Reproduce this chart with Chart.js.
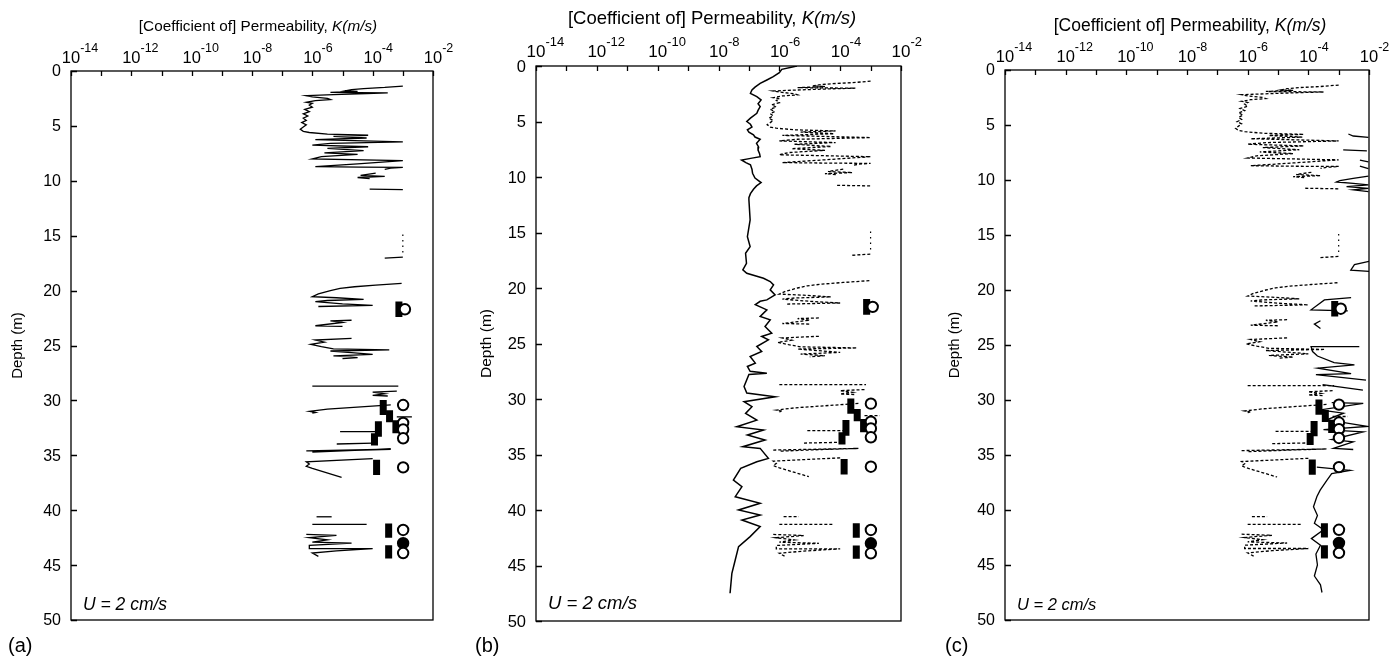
<!DOCTYPE html>
<html>
<head>
<meta charset="utf-8">
<script src="https://cdn.jsdelivr.net/npm/chart.js@4.4.1/dist/chart.umd.min.js"></script>
<style>
  html, body { margin: 0; padding: 0; background: #fff; width: 1400px; height: 656px; overflow: hidden; }
  canvas { position: absolute; left: 0; top: 0; }
</style>
</head>
<body>
<canvas id="panelA" width="1400" height="656"></canvas>
<canvas id="panelB" width="1400" height="656"></canvas>
<canvas id="panelC" width="1400" height="656"></canvas>
<script>
// Axis tick values
const kExponents = [-14, -12, -10, -8, -6, -4, -2];
const depthTicks = [0, 5, 10, 15, 20, 25, 30, 35, 40, 45, 50];

// Borehole permeability profile: [depth (m), log10 K (m/s)]; null breaks the trace
const boreholeProfile = [
  [1.37,-3.0],[1.5,-3.6],[1.6,-4.3],[1.7,-4.7],[1.8,-4.9],[1.85,-4.5],[1.95,-5.4],[2.0,-3.5],
  [2.05,-4.2],[2.15,-5.3],[2.25,-6.2],[2.35,-6.0],[2.5,-5.5],[2.6,-5.4],[2.7,-5.9],[2.85,-6.2],
  [2.95,-6.0],[3.1,-6.1],[3.3,-6.0],[3.5,-6.25],[3.7,-6.1],[3.9,-6.3],[4.1,-6.15],[4.3,-6.3],
  [4.5,-6.2],[4.7,-6.35],[4.9,-6.2],[5.1,-6.3],[5.3,-6.4],[5.5,-6.3],[5.6,-6.1],[5.75,-5.5],
  [5.85,-4.15],[5.95,-5.3],[6.1,-4.2],[6.25,-5.9],[6.45,-3.0],[6.6,-5.4],[6.75,-6.0],[6.9,-4.15],
  [7.05,-5.5],[7.25,-4.3],[7.45,-5.6],[7.6,-4.5],[7.8,-5.7],[8.0,-6.0],[8.17,-3.0],[8.45,-4.5],
  [8.7,-5.9],[8.75,-4.4],[8.77,-3.0],[8.85,-3.4],[8.95,-3.6],
  null,
  [9.3,-3.9],[9.5,-4.4],[9.6,-3.6],[9.7,-4.5],[9.8,-4.1],
  null,
  [10.75,-4.1],[10.8,-3.0],
  null,
  [17.05,-3.6],[16.95,-3.0],
  null,
  [19.34,-3.04],[19.5,-3.9],[19.65,-4.6],[19.8,-5.08],[20.0,-5.4],[20.3,-5.8],[20.55,-6.0],[20.65,-5.2],
  [20.8,-4.3],[20.9,-5.5],[21.0,-5.9],[21.2,-5.0],[21.35,-4.0],[21.45,-5.8],
  null,
  [22.7,-4.7],[22.75,-5.4],[22.9,-5.0],[23.2,-5.9],[23.25,-5.0],
  null,
  [24.35,-4.7],[24.5,-5.9],[24.7,-5.6],[24.9,-6.05],[25.1,-5.7],[25.3,-5.3],[25.4,-3.45],[25.5,-5.4],
  [25.65,-4.7],[25.8,-4.0],[25.95,-5.3],[26.1,-4.5],[26.2,-5.0],
  null,
  [28.7,-6.0],[28.7,-3.15],
  null,
  [29.15,-3.2],[29.25,-4.0],[29.4,-3.6],[29.55,-4.0],[29.6,-3.5],
  null,
  [30.4,-3.4],[30.8,-5.5],[31.0,-6.1],[31.1,-5.9],[31.15,-6.0],
  null,
  [31.5,-3.2],[31.5,-2.7],
  null,
  [32.85,-5.08],[32.85,-3.87],
  null,
  [33.97,-5.19],[33.9,-3.98],
  null,
  [34.6,-6.2],[34.45,-3.4],[34.55,-4.6],[34.7,-6.0],
  null,
  [35.3,-4.0],[35.6,-6.2],[35.8,-6.1],[36.0,-6.2],[36.2,-6.0],[37.0,-5.03],
  null,
  [40.6,-5.86],[40.6,-5.36],
  null,
  [41.3,-6.0],[41.3,-4.2],
  null,
  [42.2,-6.2],[42.3,-5.2],[42.5,-6.1],[42.7,-5.5],[42.9,-6.0],[43.0,-4.7],[43.2,-6.1],[43.5,-6.1],
  [43.5,-4.0],[43.7,-5.2],[43.9,-6.0],[44.2,-5.8]
];

// Sparse dotted stretch of the borehole profile
const boreholeSparse = [[14.9,-3.0],[16.6,-3.0]];

// Profile from the sounding shown in (b): [depth (m), log10 K]
const soundingProfile = [
  [0.0,-5.42],[0.3,-5.92],[0.6,-6.0],[0.96,-6.2],[1.26,-6.41],[1.56,-6.63],[1.9,-6.8],[2.16,-6.9],
  [2.46,-6.95],[2.76,-6.74],[3.06,-6.6],[3.4,-6.7],[3.66,-6.63],[4.0,-6.7],[4.26,-6.74],[4.7,-6.95],
  [5.0,-7.07],[5.25,-6.95],[5.5,-6.9],[5.75,-7.05],[5.96,-7.0],[6.2,-6.85],[6.4,-6.8],[6.6,-6.63],
  [6.97,-6.75],[7.3,-6.68],[7.57,-6.7],[7.9,-6.65],[8.17,-6.63],[8.3,-6.9],[8.47,-7.24],[8.7,-7.1],
  [8.9,-6.95],[9.3,-6.9],[9.66,-6.88],[10.1,-6.8],[10.5,-6.6],[10.8,-6.75],[11.1,-6.85],[11.5,-6.95],
  [11.86,-7.0],[12.07,-7.0],[13.87,-6.96],[15.37,-7.05],[16.27,-6.96],[16.87,-7.11],[17.77,-7.08],
  [18.37,-7.2],[18.67,-7.07],[19.12,-6.52],[19.42,-6.3],[19.72,-6.19],[20.17,-6.3],[20.62,-6.14],
  [21.07,-6.41],[21.2,-6.63],[21.5,-6.79],[21.97,-6.41],[22.57,-6.63],[22.87,-6.3],[23.47,-6.47],
  [24.07,-6.25],[24.37,-6.58],[24.67,-6.36],[25.27,-6.74],[25.72,-6.58],[26.17,-6.96],[26.77,-6.79],
  [27.07,-7.05],[27.5,-6.96],[27.67,-6.41],[27.8,-7.0],[28.87,-7.16],[29.47,-7.07],[29.8,-6.14],
  [30.24,-7.16],[30.69,-6.9],[31.3,-7.11],[31.9,-6.74],[32.5,-7.4],[32.8,-6.52],[33.25,-7.05],
  [33.7,-6.47],[34.3,-7.2],[34.45,-6.63],[35.35,-6.36],[35.65,-6.74],[36.25,-7.27],[37.3,-7.51],
  [37.9,-7.23],[38.8,-7.45],[39.4,-6.63],[40.0,-7.34],[40.45,-6.63],[40.9,-7.23],[41.5,-6.63],
  [42.4,-6.96],[43.3,-7.34],[44.5,-7.45],[45.7,-7.56],[47.5,-7.62]
];

// Profile shown solid in (c): [depth (m), log10 K]
const modelProfile = [
  [5.82,-2.68],[6.0,-2.52],[6.12,-2.02],
  null,
  [7.27,-2.85],[7.36,-2.07],
  null,
  [8.2,-2.3],[8.36,-2.02],
  null,
  [8.73,-2.3],[8.97,-2.02],
  null,
  [9.64,-2.02],[9.85,-2.52],[10.06,-2.96],[10.18,-3.07],[10.3,-2.52],[10.45,-2.02],[10.6,-2.74],
  [10.76,-2.02],[10.9,-2.52],[11.06,-2.02],
  null,
  [17.4,-2.0],[17.7,-2.48],[18.2,-2.6],[18.3,-2.0],
  null,
  [20.7,-2.59],[20.9,-3.47],[21.8,-3.91],[21.9,-2.7],
  null,
  [22.8,-3.6],[23.1,-3.8],[23.5,-3.6],
  null,
  [25.15,-2.32],[25.15,-3.91],[25.6,-3.86],[26.0,-3.7],[26.6,-3.15],[26.8,-2.48],[27.1,-3.69],
  [27.6,-2.59],[27.7,-3.75],[28.2,-2.1],
  null,
  [28.6,-3.53],[29.1,-2.2],
  null,
  [30.24,-3.23],[30.3,-2.19],[30.9,-3.61],[31.2,-2.84],[31.8,-3.39],[32.4,-2.07],[32.7,-3.5],
  [32.9,-2.19],[33.6,-3.23],[33.8,-2.52],[34.4,-3.17],[34.5,-2.52],
  null,
  [36.1,-3.72],[36.4,-2.62],[36.7,-3.23],[37.3,-3.39],[38.2,-3.61],[38.8,-3.72],[39.7,-3.83],
  [40.5,-3.7],[41.2,-3.8],[41.8,-3.5],[42.6,-3.9],[43.2,-3.6],[44.0,-3.75],[45.0,-3.7],[46.0,-3.8],
  [46.8,-3.6],[47.5,-3.55]
];

// Filled bar measurements: [log10 K, top depth, bottom depth]
const barMeasurements = [
  [-3.13,21.0,22.4],[-3.65,29.96,31.33],[-3.44,30.9,32.0],[-3.23,31.8,33.0],[-3.81,31.9,33.3],
  [-3.94,33.0,34.1],[-3.87,35.4,36.8],[-3.47,41.2,42.5],[-3.47,43.2,44.4]
];

// Circle measurements: [log10 K, depth, filled (1) or open (0)]
const circleMeasurements = [
  [-2.93,21.7,0],[-2.99,30.42,0],[-2.99,32.05,0],[-2.99,32.65,0],[-2.99,33.45,0],[-2.99,36.1,0],
  [-2.99,41.8,0],[-2.99,43.0,1],[-2.99,43.9,0]
];

const toPt = p => ({ x: Math.pow(10, p[1]), y: p[0] });

function splitTrace(rows) {
  const out = [];
  let cur = [];
  rows.forEach(r => {
    if (r === null) { if (cur.length) out.push(cur); cur = []; }
    else cur.push(toPt(r));
  });
  if (cur.length) out.push(cur);
  return out;
}

function traceDatasets(rows, style) {
  return splitTrace(rows).map(seg => Object.assign({
    data: seg, showLine: true, pointRadius: 0, borderColor: '#000', fill: false,
    tension: 0, order: 5
  }, style));
}

function markerDatasets() {
  const sets = barMeasurements.map(b => ({
    data: [{ x: Math.pow(10, b[0]), y: b[1] }, { x: Math.pow(10, b[0]), y: b[2] }],
    showLine: true, pointRadius: 0, borderColor: '#000', borderWidth: 7,
    borderCapStyle: 'butt', order: 1
  }));
  sets.unshift({
    data: circleMeasurements.map(c => ({ x: Math.pow(10, c[0]), y: c[1] })),
    showLine: false, pointRadius: 5.2, pointBorderWidth: 2, pointBorderColor: '#000',
    pointBackgroundColor: circleMeasurements.map(c => c[2] ? '#000' : '#fff'),
    order: 0
  });
  return sets;
}

function decoration(p) {
  return {
    id: 'decor',
    afterDatasetsDraw(chart) {
      const { ctx, chartArea: a, scales: { x, y } } = chart;
      ctx.save();
      ctx.strokeStyle = '#000';
      ctx.lineWidth = 1.3;
      ctx.strokeRect(a.left, a.top, a.right - a.left, a.bottom - a.top);
      ctx.beginPath();
      for (let e = -14; e <= -2; e++) {
        const px = Math.round(x.getPixelForValue(Math.pow(10, e))) + 0.5;
        ctx.moveTo(px, a.top); ctx.lineTo(px, a.top + 5);
      }
      depthTicks.forEach(d => {
        const py = Math.round(y.getPixelForValue(d)) + 0.5;
        ctx.moveTo(a.left, py); ctx.lineTo(a.left + 6, py);
      });
      ctx.stroke();

      ctx.fillStyle = '#000';
      const fam = '"Liberation Sans", Arial, Helvetica, sans-serif';
      // top tick labels: 10 with superscript exponent
      kExponents.forEach(e => {
        const px = x.getPixelForValue(Math.pow(10, e));
        ctx.font = p.tickSize + 'px ' + fam;
        ctx.textAlign = 'center';
        ctx.textBaseline = 'alphabetic';
        ctx.fillText('10', px, a.top - p.tickGap);
        const w = ctx.measureText('10').width;
        ctx.font = p.expSize + 'px ' + fam;
        ctx.textAlign = 'left';
        ctx.fillText(String(e), px + w / 2, a.top - p.tickGap - p.expRise);
      });
      // depth tick labels
      ctx.font = p.depthSize + 'px ' + fam;
      ctx.textAlign = 'right';
      ctx.textBaseline = 'middle';
      depthTicks.forEach(d => {
        ctx.fillText(String(d), a.left - p.depthGap, y.getPixelForValue(d) + 1);
      });
      // axis title
      ctx.textBaseline = 'alphabetic';
      const t1 = '[Coefficient of] Permeability, ';
      const t2 = 'K(m/s)';
      ctx.font = p.titleSize + 'px ' + fam;
      const w1 = ctx.measureText(t1).width;
      ctx.font = 'italic ' + p.titleSize + 'px ' + fam;
      const w2 = ctx.measureText(t2).width;
      const tx = p.titleX - (w1 + w2) / 2;
      ctx.textAlign = 'left';
      ctx.font = p.titleSize + 'px ' + fam;
      ctx.fillText(t1, tx, p.titleY);
      ctx.font = 'italic ' + p.titleSize + 'px ' + fam;
      ctx.fillText(t2, tx + w1, p.titleY);
      // depth title
      ctx.save();
      ctx.translate(p.depthTitleX, (a.top + a.bottom) / 2);
      ctx.rotate(-Math.PI / 2);
      ctx.font = p.depthTitleSize + 'px ' + fam;
      ctx.textAlign = 'center';
      ctx.textBaseline = 'middle';
      ctx.fillText('Depth (m)', 0, 0);
      ctx.restore();
      // velocity note
      ctx.font = 'italic ' + p.noteSize + 'px ' + fam;
      ctx.textAlign = 'left';
      ctx.fillText('U = 2 cm/s', a.left + p.noteDx, a.bottom - p.noteDy);
      // panel letter
      ctx.font = p.letterSize + 'px ' + fam;
      ctx.fillText(p.letter, p.letterX, p.letterY);
      ctx.restore();
    }
  };
}

function makePanel(id, area, datasets, p) {
  return new Chart(document.getElementById(id), {
    type: 'scatter',
    data: { datasets },
    options: {
      responsive: false, animation: false, devicePixelRatio: 1,
      layout: { padding: { left: area.left, top: area.top, right: 1400 - area.right, bottom: 656 - area.bottom } },
      plugins: { legend: { display: false }, tooltip: { enabled: false } },
      events: [],
      scales: {
        x: { type: 'logarithmic', min: 1e-14, max: 1e-2, display: false },
        y: { type: 'linear', min: 0, max: 50, reverse: true, display: false }
      }
    },
    plugins: [decoration(p)]
  });
}

const solidThin = { borderWidth: 1.3 };
const dashed = { borderWidth: 1.3, borderDash: [3, 2] };
const dotted = { borderWidth: 1.2, borderDash: [1.5, 4] };

makePanel('panelA', { left: 71, top: 71, right: 433, bottom: 620 },
  [...markerDatasets(), ...traceDatasets(boreholeProfile, solidThin), ...traceDatasets(boreholeSparse, dotted)],
  { tickSize: 16.5, expSize: 12.5, tickGap: 8, expRise: 11, depthSize: 16, depthGap: 10, titleSize: 15.3, titleX: 258, titleY: 31,
    depthTitleX: 18, depthTitleSize: 15, noteSize: 17.5, noteDx: 12, noteDy: 10,
    letter: '(a)', letterSize: 20, letterX: 8, letterY: 652 });

makePanel('panelB', { left: 536, top: 66, right: 901, bottom: 621 },
  [...markerDatasets(), ...traceDatasets(soundingProfile, { borderWidth: 1.5 }),
   ...traceDatasets(boreholeProfile, dashed), ...traceDatasets(boreholeSparse, dotted)],
  { tickSize: 17, expSize: 13, tickGap: 9, expRise: 11, depthSize: 16.5, depthGap: 10, titleSize: 18.5, titleX: 712, titleY: 24,
    depthTitleX: 487, depthTitleSize: 15.5, noteSize: 18.5, noteDx: 12, noteDy: 12,
    letter: '(b)', letterSize: 20, letterX: 475, letterY: 652 });

makePanel('panelC', { left: 1005, top: 70, right: 1369, bottom: 620 },
  [...markerDatasets(), ...traceDatasets(modelProfile, { borderWidth: 1.3 }),
   ...traceDatasets(boreholeProfile, dashed), ...traceDatasets(boreholeSparse, dotted)],
  { tickSize: 16.5, expSize: 12.5, tickGap: 8, expRise: 11, depthSize: 16, depthGap: 10, titleSize: 17.5, titleX: 1190, titleY: 31,
    depthTitleX: 955, depthTitleSize: 15, noteSize: 16.5, noteDx: 12, noteDy: 10,
    letter: '(c)', letterSize: 20, letterX: 945, letterY: 652 });
</script>
</body>
</html>
